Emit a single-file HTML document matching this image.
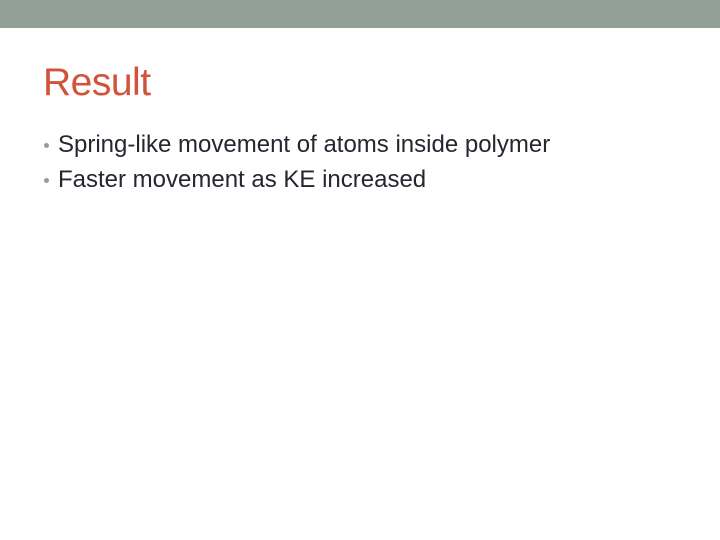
<!DOCTYPE html>
<html><head><meta charset="utf-8"><style>
body{margin:0;width:720px;height:540px;background:#fff;position:relative;overflow:hidden;font-family:"Liberation Sans",sans-serif}
.bar{position:absolute;left:0;top:0;width:720px;height:28px;background:#92A197}
.title{position:absolute;left:43px;top:60px;font-size:39px;line-height:46px;color:#D2533B;letter-spacing:-0.5px}
.b{position:absolute;left:58px;font-size:24px;line-height:28px;color:#262630}
.dot{position:absolute;left:-14px;top:12px;width:5px;height:5px;border-radius:50%;background:#92A197}
</style></head><body>
<div class="bar"></div>
<div class="title">Result</div>
<div class="b" style="top:131px"><span class="dot"></span>Spring-like movement of atoms inside polymer</div>
<div class="b" style="top:166px"><span class="dot"></span>Faster movement as KE increased</div>
</body></html>
